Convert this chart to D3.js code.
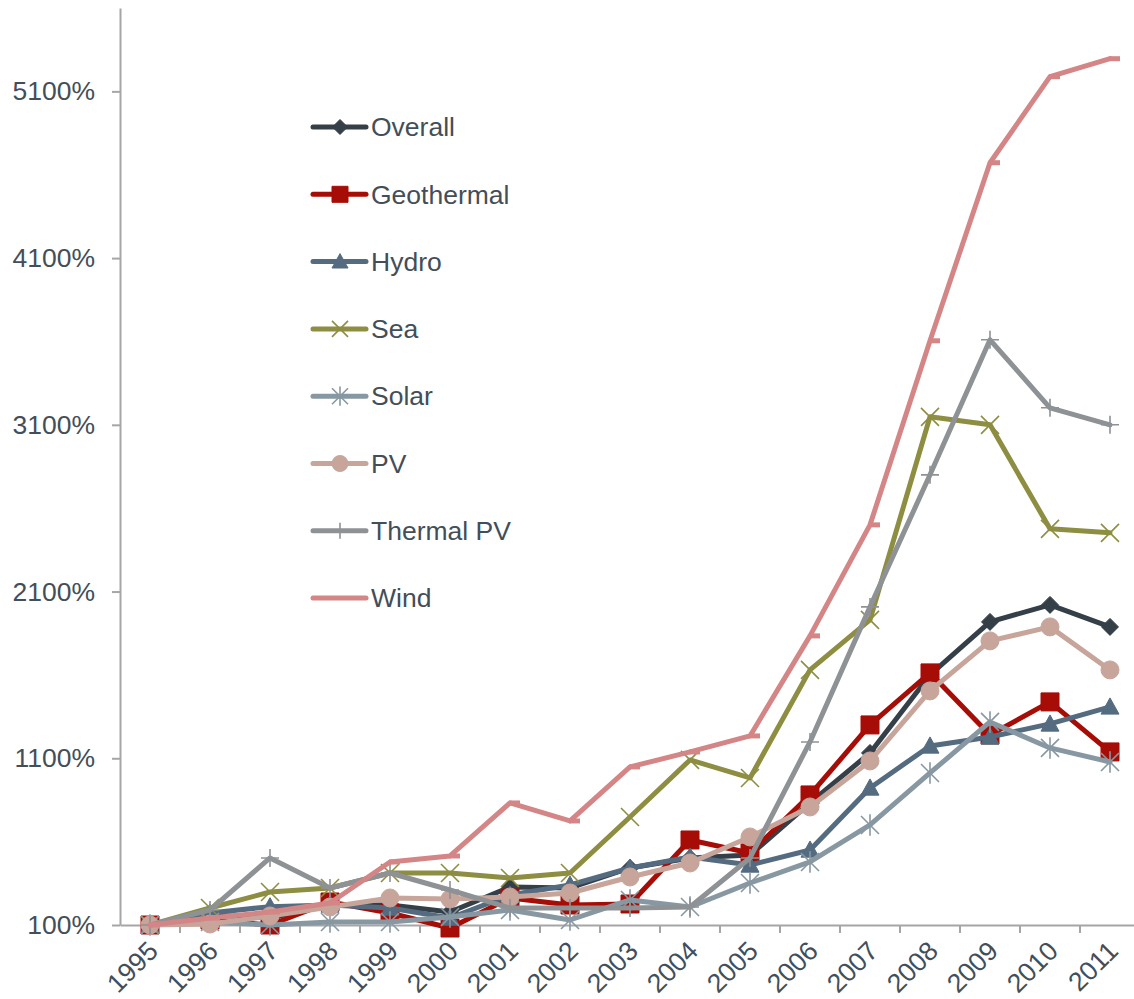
<!DOCTYPE html>
<html>
<head>
<meta charset="utf-8">
<script src="https://cdnjs.cloudflare.com/ajax/libs/d3/7.8.5/d3.min.js"></script>
<style>
  html, body { margin: 0; padding: 0; background: #fff; }
  svg { display: block; font-family: "Liberation Sans", Arial, sans-serif; }
</style>
</head>
<body>
<svg id="chart" width="1134" height="999"></svg>
<script>
const years = ['1995', '1996', '1997', '1998', '1999', '2000', '2001', '2002', '2003',
  '2004', '2005', '2006', '2007', '2008', '2009', '2010', '2011'];

const yTicks = [100, 1100, 2100, 3100, 4100, 5100];

const overall    = [100, 160, 142, 220, 220, 178, 328, 322, 442, 502, 520, 832, 1132, 1600, 1918, 2020, 1888];
const geothermal = [100, 130, 100, 238, 172, 82, 262, 220, 226, 610, 532, 880, 1300, 1612, 1240, 1438, 1138];
const hydro      = [100, 172, 210, 220, 202, 142, 280, 340, 442, 508, 460, 550, 922, 1174, 1228, 1306, 1408];
const sea        = [100, 202, 298, 322, 412, 412, 382, 412, 748, 1090, 982, 1630, 1930, 3148, 3100, 2476, 2452];
const solar      = [100, 118, 100, 118, 118, 148, 190, 130, 250, 208, 352, 478, 700, 1012, 1318, 1162, 1078];
const pv         = [100, 106, 154, 208, 262, 256, 268, 292, 388, 472, 628, 808, 1084, 1504, 1804, 1888, 1630];
const thermalPv  = [100, 190, 502, 322, 412, 310, 202, 202, 202, 208, 502, 1198, 2008, 2800, 3610, 3202, 3100];
const wind       = [100, 142, 178, 232, 478, 514, 832, 724, 1048, 1138, 1234, 1834, 2500, 3604, 4672, 5188, 5296];

const series = [
  { name: 'Overall',    values: overall,    color: '#343f48', marker: 'diamond' },
  { name: 'Geothermal', values: geothermal, color: '#a60d06', marker: 'square' },
  { name: 'Hydro',      values: hydro,      color: '#546b80', marker: 'triangle' },
  { name: 'Sea',        values: sea,        color: '#8d8e42', marker: 'x' },
  { name: 'Solar',      values: solar,      color: '#8898a2', marker: 'asterisk' },
  { name: 'PV',         values: pv,         color: '#c7a59b', marker: 'circle' },
  { name: 'Thermal PV', values: thermalPv,  color: '#8e9295', marker: 'plus' },
  { name: 'Wind',       values: wind,       color: '#d48586', marker: 'dash' }
];

const textColor = '#434e58';
const axisColor = '#a6a6a6';
const fontSize = '26.5px';

const svg = d3.select('#chart');

const x = d3.scaleBand()
  .domain(years)
  .range([120, 1140]);

const y = d3.scaleLinear()
  .domain([100, 5600])
  .range([925, 8]);

// marker paths, centred on 0,0
function markerPath(type, s) {
  const h = s / 2;
  switch (type) {
    case 'diamond':  return `M0,${-h}L${h},0L0,${h}L${-h},0Z`;
    case 'square':   return `M${-h},${-h}H${h}V${h}H${-h}Z`;
    case 'triangle': return `M0,${-h}L${h},${h * 0.8}H${-h}Z`;
    case 'circle':   return d3.symbol(d3.symbolCircle, Math.PI * h * h)();
    case 'x':        return `M${-h},${-h}L${h},${h}M${h},${-h}L${-h},${h}`;
    case 'plus':     return `M${-h},0H${h}M0,${-h}V${h}`;
    case 'asterisk': return `M${-h},${-h}L${h},${h}M${h},${-h}L${-h},${h}M0,${-h * 1.2}V${h * 1.2}`;
    case 'dash':     return `M-1,-2.5H10V2.5H-1Z`;
  }
}
const filled = { diamond: true, square: true, triangle: true, circle: true, dash: true };

function drawMarker(sel, s, size) {
  sel.append('path')
    .attr('d', markerPath(s.marker, size))
    .attr('fill', filled[s.marker] ? s.color : 'none')
    .attr('stroke', s.color)
    .attr('stroke-width', filled[s.marker] ? (s.marker === 'dash' ? 0 : 1) : 1.6);
}

// axes
const yAxis = svg.append('g')
  .attr('transform', 'translate(120,0)')
  .call(d3.axisLeft(y).tickValues(yTicks).tickFormat(d => d + '%').tickSize(8).tickPadding(17).tickSizeOuter(0));
yAxis.select('.domain').attr('stroke', axisColor).attr('stroke-width', 2);
yAxis.selectAll('.tick line').attr('stroke', axisColor).attr('stroke-width', 2);
yAxis.selectAll('.tick text')
  .attr('fill', textColor)
  .style('font-size', fontSize);

const xAxis = svg.append('g')
  .attr('transform', 'translate(0,925)')
  .call(d3.axisBottom(x).tickSize(0).tickSizeOuter(0).tickFormat(''));
xAxis.select('.domain').attr('stroke', axisColor).attr('stroke-width', 2);

xAxis.selectAll('.bound')
  .data(years)
  .join('line')
    .attr('class', 'bound')
    .attr('x1', d => x(d) + x.bandwidth())
    .attr('x2', d => x(d) + x.bandwidth())
    .attr('y1', 0)
    .attr('y2', 8)
    .attr('stroke', axisColor)
    .attr('stroke-width', 2);

svg.append('g')
  .selectAll('text')
  .data(years)
  .join('text')
    .attr('transform', d => `translate(${x(d) + x.bandwidth() / 2 + 3},946) rotate(-45)`)
    .attr('text-anchor', 'end')
    .attr('dy', '0.35em')
    .attr('fill', textColor)
    .style('font-size', fontSize)
    .text(d => d);

// lines + markers
const line = d3.line()
  .x((d, i) => x(years[i]) + x.bandwidth() / 2)
  .y(d => y(d));

series.forEach(s => {
  const g = svg.append('g');
  g.append('path')
    .datum(s.values)
    .attr('d', line)
    .attr('fill', 'none')
    .attr('stroke', s.color)
    .attr('stroke-width', 5)
    .attr('stroke-linejoin', 'round')
    .attr('stroke-linecap', 'round');

  g.selectAll('.pt')
    .data(s.values)
    .join('g')
      .attr('class', 'pt')
      .attr('transform', (d, i) => `translate(${x(years[i]) + x.bandwidth() / 2},${y(d)})`)
      .each(function() { drawMarker(d3.select(this), s, s.marker === 'diamond' ? 17 : 18); });
});

// legend
const legend = svg.append('g')
  .selectAll('g')
  .data(series)
  .join('g')
    .attr('transform', (d, i) => `translate(313,${127 + i * 67.3})`);

legend.append('line')
  .attr('x1', 0)
  .attr('x2', 53)
  .attr('stroke', d => d.color)
  .attr('stroke-width', 5)
  .attr('stroke-linecap', 'round');

legend.append('g')
  .attr('transform', 'translate(27,0)')
  .each(function(d) {
    if (d.marker !== 'dash') drawMarker(d3.select(this), d, d.marker === 'diamond' ? 15 : 16);
  });

legend.append('text')
  .attr('x', 58)
  .attr('dy', '0.35em')
  .attr('fill', textColor)
  .style('font-size', fontSize)
  .text(d => d.name);
</script>
</body>
</html>
